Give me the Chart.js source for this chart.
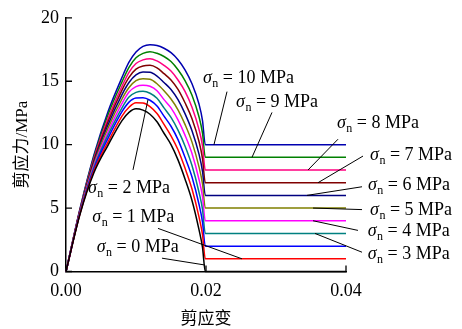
<!DOCTYPE html>
<html>
<head>
<meta charset="utf-8">
<script src="https://cdn.jsdelivr.net/npm/chart.js@4.4.0/dist/chart.umd.min.js"></script>
<style>
  html, body { margin: 0; padding: 0; background: #fff; }
  #wrap { width: 462px; height: 329px; }
</style>
</head>
<body>
<div id="wrap"><canvas id="chart" width="462" height="329"></canvas></div>
<script>
// strain samples shared by every curve
const strain = [0, 0.002, 0.004, 0.006, 0.008, 0.009, 0.010, 0.011, 0.012, 0.013, 0.014, 0.015, 0.016, 0.017, 0.018, 0.019, 0.0195, 0.0199, 0.04];

// normal stress of each curve (MPa)
const sigmaN = [0, 1, 2, 3, 4, 5, 6, 7, 8, 9, 10];

// shear stress (MPa)
const stress0  = [0, 4.5,  7.8,  9.95, 11.9,  12.55, 12.83, 12.72, 12.4,  11.8,  10.9,  10.0,  8.8,   7.3,   5.6,   3.3,   1.9,   0,  0];
const stress1  = [0, 4.55, 7.94, 10.2, 12.25, 12.95, 13.3,  13.28, 13.0,  12.45, 11.6,  10.7,  9.6,   8.15,  6.5,   4.3,   2.9,   1,  1];
const stress2  = [0, 4.6,  8.08, 10.5, 12.6,  13.35, 13.68, 13.7,  13.5,  13.05, 12.25, 11.45, 10.4,  9.0,   7.45,  5.3,   3.9,   2,  2];
const stress3  = [0, 4.64, 8.22, 10.75, 12.9, 13.75, 14.12, 14.2,  14.05, 13.65, 12.9,  12.15, 11.15, 9.9,   8.35,  6.25,  4.9,   3,  3];
const stress4  = [0, 4.68, 8.36, 11.0, 13.25, 14.15, 14.58, 14.69, 14.6,  14.25, 13.55, 12.9,  11.95, 10.75, 9.3,   7.25,  5.9,   4,  4];
const stress5  = [0, 4.72, 8.5,  11.3, 13.6,  14.5,  15.05, 15.2,  15.15, 14.8,  14.25, 13.6,  12.75, 11.6,  10.2,  8.25,  6.9,   5,  5];
const stress6  = [0, 4.77, 8.64, 11.55, 13.95, 14.9, 15.5,  15.72, 15.7,  15.4,  14.9,  14.35, 13.55, 12.45, 11.1,  9.25,  7.9,   6,  6];
const stress7  = [0, 4.81, 8.78, 11.8, 14.3,  15.3,  15.95, 16.2,  16.25, 16.05, 15.6,  15.1,  14.35, 13.3,  12.05, 10.25, 8.9,   7,  7];
const stress8  = [0, 4.86, 8.92, 12.05, 14.6, 15.7,  16.4,  16.68, 16.78, 16.6,  16.25, 15.8,  15.1,  14.2,  12.95, 11.2,  9.9,   8,  8];
const stress9  = [0, 4.9,  9.06, 12.35, 14.95, 16.1, 16.85, 17.2,  17.33, 17.2,  16.95, 16.55, 15.9,  15.05, 13.9,  12.2,  10.9,  9,  9];
const stress10 = [0, 4.95, 9.2,  12.6, 15.3,  16.5,  17.3,  17.75, 17.88, 17.82, 17.6,  17.25, 16.7,  15.9,  14.8,  13.2,  11.9,  10, 10];

const xTicks = [0, 0.02, 0.04];
const yTicks = [0, 5, 10, 15, 20];

const stressCurves = [stress0, stress1, stress2, stress3, stress4, stress5, stress6, stress7, stress8, stress9, stress10];
const lineColors = ['#000000', '#ff0000', '#0000ff', '#008080', '#ff00ff', '#808000', '#000080', '#800000', '#ff0080', '#008000', '#0000b0'];

// label anchor (text start), leader line from curve -> label, all in data units
const callouts = [
    {s: 10, text: [0.01957, 14.88], from: [0.02114, 10],    to: [0.02300, 14.18]},
    {s: 9,  text: [0.02429, 12.93], from: [0.02657, 9],     to: [0.02943, 12.54]},
    {s: 8,  text: [0.03871, 11.29], from: [0.03457, 8],     to: [0.03886, 10.43]},
    {s: 7,  text: [0.04343, 8.77],  from: [0.03600, 7],     to: [0.04243, 9.10]},
    {s: 6,  text: [0.04314, 6.45],  from: [0.03443, 6],     to: [0.04229, 6.68]},
    {s: 5,  text: [0.04343, 4.49],  from: [0.03529, 5],     to: [0.04229, 4.88]},
    {s: 4,  text: [0.04310, 2.77],  from: [0.03529, 4],     to: [0.04171, 3.24]},
    {s: 3,  text: [0.04310, 0.98],  from: [0.03557, 3],     to: [0.04229, 1.52]},
    {s: 2,  text: [0.00314, 6.21],  from: [0.01171, 13.55], to: [0.00957, 8.01]},
    {s: 1,  text: [0.00376, 3.89],  from: [0.02514, 1],     to: [0.01314, 3.40]},
    {s: 0,  text: [0.00439, 1.50],  from: [0.01986, 0.51],  to: [0.01371, 1.05]}
];

const serif = '"Liberation Serif", "Times New Roman", serif';

function drawSigmaLabel(ctx, px, py, value) {
    ctx.font = 'italic 18px ' + serif;
    ctx.fillText('σ', px, py);
    let w = ctx.measureText('σ').width + 0.5;
    ctx.font = '12px ' + serif;
    ctx.fillText('n', px + w, py + 4);
    w += ctx.measureText('n').width;
    ctx.font = '18px ' + serif;
    ctx.fillText(' = ' + value + ' MPa', px + w, py);
}

const calloutPlugin = {
    id: 'callouts',
    afterDatasetsDraw(chart) {
        const {ctx, scales: {x, y}} = chart;
        ctx.save();
        ctx.strokeStyle = '#000';
        ctx.lineWidth = 1;
        ctx.fillStyle = '#000';
        ctx.textBaseline = 'alphabetic';
        ctx.textAlign = 'left';
        callouts.forEach(function (c) {
            ctx.beginPath();
            ctx.moveTo(x.getPixelForValue(c.from[0]), y.getPixelForValue(c.from[1]));
            ctx.lineTo(x.getPixelForValue(c.to[0]), y.getPixelForValue(c.to[1]));
            ctx.stroke();
            drawSigmaLabel(ctx, x.getPixelForValue(c.text[0]), y.getPixelForValue(c.text[1]), c.s);
        });
        ctx.restore();
    }
};

// ticks point into the plot
const innerTicks = {
    id: 'innerTicks',
    afterDraw(chart) {
        const {ctx, chartArea, scales: {x, y}} = chart;
        ctx.save();
        ctx.strokeStyle = '#000';
        ctx.lineWidth = 1.3;
        ctx.beginPath();
        x.ticks.forEach(function (t) {
            const px = x.getPixelForValue(t.value);
            ctx.moveTo(px, chartArea.bottom);
            ctx.lineTo(px, chartArea.bottom - 6);
        });
        y.ticks.forEach(function (t) {
            const py = y.getPixelForValue(t.value);
            ctx.moveTo(chartArea.left, py);
            ctx.lineTo(chartArea.left + 6, py);
        });
        ctx.stroke();
        ctx.restore();
    }
};

const datasets = stressCurves.map(function (curve, i) {
    return {
        label: 'σn = ' + sigmaN[i] + ' MPa',
        data: strain.map(function (s, j) { return {x: s, y: curve[j]}; }),
        borderColor: lineColors[i],
        borderWidth: 1.5,
        pointRadius: 0,
        cubicInterpolationMode: 'monotone',
        fill: false,
        clip: false
    };
});

new Chart(document.getElementById('chart'), {
    type: 'line',
    data: {datasets: datasets},
    options: {
        responsive: false,
        animation: false,
        events: [],
        layout: {padding: {left: 0, right: 116, top: 15, bottom: 0}},
        plugins: {legend: {display: false}, tooltip: {enabled: false}},
        scales: {
            x: {
                type: 'linear',
                min: 0,
                max: 0.04,
                afterBuildTicks: function (s) { s.ticks = xTicks.map(function (v) { return {value: v}; }); },
                afterFit: function (s) { s.height = 57.5; },
                grid: {display: false, drawTicks: false},
                border: {display: true, color: '#000', width: 1.5},
                ticks: {
                    padding: 9,
                    color: '#000',
                    font: {family: serif, size: 18},
                    callback: function (v) { return v.toFixed(2); }
                },
                title: {
                    display: true,
                    text: '剪应变',
                    color: '#000',
                    font: {family: '"Noto Sans CJK SC", sans-serif', size: 17},
                    padding: {top: 0, bottom: 1}
                }
            },
            y: {
                type: 'linear',
                min: 0,
                max: 20,
                afterBuildTicks: function (s) { s.ticks = yTicks.map(function (v) { return {value: v}; }); },
                afterFit: function (s) { s.width = 66; },
                grid: {display: false, drawTicks: false},
                border: {display: true, color: '#000', width: 1.5},
                ticks: {
                    padding: 7,
                    color: '#000',
                    font: {family: serif, size: 18}
                },
                title: {
                    display: true,
                    text: '剪应力/MPa',
                    color: '#000',
                    font: {family: serif + ', "Noto Sans CJK SC"', size: 17},
                    padding: {top: 12, bottom: 0}
                }
            }
        }
    },
    plugins: [calloutPlugin, innerTicks]
});
</script>
</body>
</html>
